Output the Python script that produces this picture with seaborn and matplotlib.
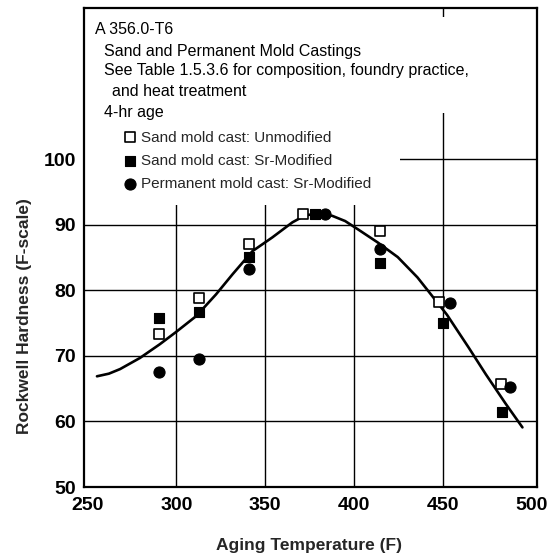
import matplotlib
matplotlib.use("Agg")
import matplotlib.pyplot as plt
from matplotlib.patches import Rectangle
import seaborn as sns
import pandas as pd

# Aging temperatures (F) and Rockwell F hardness for each casting condition
temp_unmod = [290, 312.5, 341, 371.5, 414.5, 448, 482.5]
hard_unmod = [73.3, 78.9, 87.1, 91.6, 89.1, 78.3, 65.7]

temp_sand_sr = [290, 312.5, 341, 378, 414.5, 450, 483.5]
hard_sand_sr = [75.8, 76.7, 85.1, 91.6, 84.2, 75.1, 61.5]

temp_perm_sr = [290, 312.5, 341, 383.5, 414.5, 454, 488]
hard_perm_sr = [67.6, 69.6, 83.3, 91.6, 86.3, 78.1, 65.2]

# Trend curve through the data
curve_temp = [255.3, 262, 268.3, 279.5, 290.7, 300, 311.2, 322.3, 331.7, 342.8,
              354, 365.3, 372.7, 380, 387.7, 395, 402.4, 413.5, 424.6, 435.7,
              443, 452.3, 464.5, 474.2, 485.4, 494.8]
curve_hard = [66.9, 67.3, 68.0, 69.7, 71.8, 73.7, 76.1, 79.4, 82.5, 86.0,
              88.1, 90.4, 91.5, 91.7, 91.4, 90.6, 89.3, 87.3, 85.1, 82.0,
              79.5, 76.3, 71.3, 67.2, 62.7, 59.1]

x_ticks = [250, 300, 350, 400, 450, 500]
y_ticks = [50, 60, 70, 80, 90, 100]

series_labels = ["Sand mold cast: Unmodified",
                 "Sand mold cast: Sr-Modified",
                 "Permanent mold cast: Sr-Modified"]

note_lines = [
    ("A 356.0-T6", 95, 30.0),
    ("Sand and Permanent Mold Castings", 103.5, 51.5),
    ("See Table 1.5.3.6 for composition, foundry practice,", 103.5, 71.0),
    ("and heat treatment", 112.5, 91.5),
    ("4-hr age", 103.5, 113.0),
]

sns.set_theme(style="white")
plt.rcParams["font.family"] = ["Liberation Sans", "DejaVu Sans"]

W, H = 549, 560
fig = plt.figure(figsize=(W / 100, H / 100), dpi=100)
ax = fig.add_axes([84 / W, 1 - 487 / H, (537 - 84) / W, (487 - 7.5) / H])

xmin, xmax, ymin, ymax = 248, 503, 50, 123.2
ax.set_xlim(xmin, xmax)
ax.set_ylim(ymin, ymax)

# grid lines
for xv in x_ticks[1:-1]:
    ax.axvline(xv, color="black", lw=1.0, zorder=1)
for yv in y_ticks[1:]:
    ax.axhline(yv, color="black", lw=1.0, zorder=1)

# blank background behind the annotation block
ax.add_patch(Rectangle((xmin, 93.0), 426 - xmin, ymax - 93.0,
                       facecolor="white", edgecolor="none", zorder=2))
ax.add_patch(Rectangle((426, 107.1), 474 - 426, 121.8 - 107.1,
                       facecolor="white", edgecolor="none", zorder=2))

curve = pd.DataFrame({"temp": curve_temp, "hard": curve_hard})
sns.lineplot(data=curve, x="temp", y="hard", color="black", lw=1.9,
             sort=False, ax=ax, zorder=3)

sns.scatterplot(x=temp_unmod, y=hard_unmod, marker="s", s=50,
                facecolor="white", edgecolor="black", linewidth=1.2,
                label=series_labels[0], ax=ax, zorder=4)
sns.scatterplot(x=temp_sand_sr, y=hard_sand_sr, marker="s", s=50,
                color="black", edgecolor="black", linewidth=0.8,
                label=series_labels[1], ax=ax, zorder=4)
sns.scatterplot(x=temp_perm_sr, y=hard_perm_sr, marker="o", s=64,
                color="black", edgecolor="black", linewidth=0.8,
                label=series_labels[2], ax=ax, zorder=5)

# annotation text
for txt, xp, yp in note_lines:
    fig.text(xp / W, 1 - yp / H, txt, fontsize=11.5,
             ha="left", va="center", color="black")

leg = ax.legend(loc="upper left", bbox_to_anchor=(122 / W, 1 - 130.5 / H),
                bbox_transform=fig.transFigure, frameon=False, fontsize=11,
                handletextpad=0.25, labelspacing=0.62, borderpad=0,
                borderaxespad=0, handlelength=1.0, markerscale=1.0)
leg.set_zorder(6)

ax.set_xticks(x_ticks)
ax.set_yticks(y_ticks)
ax.tick_params(axis="both", length=0, labelsize=14, colors="black")
ax.tick_params(axis="x", pad=7)
ax.tick_params(axis="y", pad=6)
for lab in ax.get_xticklabels() + ax.get_yticklabels():
    lab.set_fontweight("bold")

ax.set_xlabel("Aging Temperature (F)", fontsize=12.5, fontweight="bold")
ax.set_ylabel("Rockwell Hardness (F-scale)", fontsize=12.5, fontweight="bold")
ax.xaxis.set_label_coords((308.5 - 84) / 453, (487 - 538) / 479.5)
ax.yaxis.set_label_coords((32 - 84) / 453, (487 - 316) / 479.5)

for sp in ax.spines.values():
    sp.set_visible(True)
    sp.set_color("black")
    sp.set_linewidth(1.6)

ax.grid(False)
fig.savefig("out.png", dpi=100, facecolor="white")
